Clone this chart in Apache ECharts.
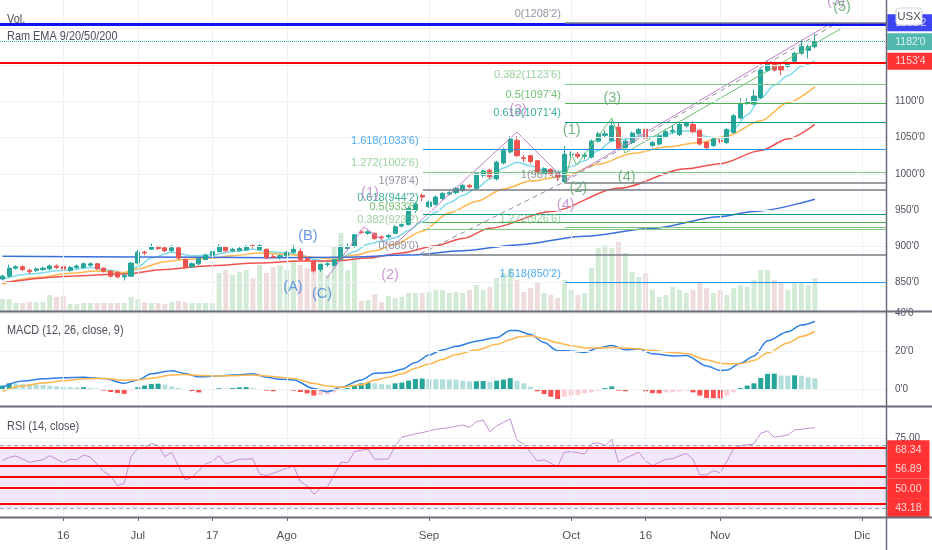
<!DOCTYPE html>
<html><head><meta charset="utf-8">
<script src="https://cdn.jsdelivr.net/npm/echarts@6/dist/echarts.min.js"></script>
<style>html,body{margin:0;padding:0;background:#fff}#c{width:932px;height:550px}</style>
</head><body><div id="c"></div>
<script>
const FONT = "'Liberation Sans Narrow','Liberation Sans',Arial,sans-serif";

// ---- sessions (categories) ----
const junDays = [3,4,5,8,9,10,11,12,15,16,17,18,19,22,23,24,25,26,29,30];
const julDays = [1,2,6,7,8,9,10,13,14,15,16,17,20,21,22,23,24,27,28,29,30,31];
const augDays = [3,4,5,6,7,10,11,12,13,14,17,18,19,20,21,24,25,26,27,28,31];
const sepDays = [1,2,3,4,8,9,10,11,14,15,16,17,18,21,22,23,24,25,28,29,30];
const octDays = [1,2,5,6,7,8,9,12,13,14,15,16,19,20,21,22,23,26,27,28,29,30];
const novDays = [2,3,4,5,6,9,10,11,12,13,16,17,18,19,20,23,24,25,26,27,30];
const decDays = [1,2,3,4];
const dates = [];
[['2020-06',junDays],['2020-07',julDays],['2020-08',augDays],['2020-09',sepDays],['2020-10',octDays],['2020-11',novDays],['2020-12',decDays]]
  .forEach(([m, ds]) => ds.forEach(d => dates.push(m + '-' + String(d).padStart(2,'0'))));

const tickDates = ['2020-06-16','2020-07-01','2020-07-17','2020-08-03','2020-09-01','2020-10-01','2020-10-16','2020-11-02','2020-12-01'];
const tickLabels = ['16','Jul','17','Ago','Sep','Oct','16','Nov','Dic'];
const tickIdx = tickDates.map(d => dates.indexOf(d));

const priceLabelTicks = [850,900,950,1000,1050,1100];
const priceGridTicks = [850,900,950,1000,1050,1100,1150,1200];
const macdTicks = [0,20,40];
const rsiTicks = [75];

// ---- candles: [open, close, low, high] ----
const ohlc = [
[855,859,853,861],[859,870,857,875],[870,872,868,874],[872,868,866,874],[867,865,862,869],
[867,869,865,871],[868,870,866,872],[869,873,867,875],[873,871,869,875],[872,869,867,874],
[867,871,865,873],[871,873,869,875],[871,876,869,878],[874,876,872,878],[876,869,868,877],
[870,866,864,871],[866,859,857,867],[864,858,856,866],[858,860,853,864],[859,877,858,878],
[877,892,875,895],[892,891,888,894],[896,900,895,904],[900,897,895,901],[898,894,892,899],
[894,898,892,902],[898,884,882,899],[882,871,869,883],[872,876,870,878],[876,883,874,884],
[882,888,881,890],[888,893,887,895],[893,900,892,903],[899,894,892,901],[894,896,892,898],
[894,897,893,899],[895,900,894,902],[901,900,897,903],[896,901,894,903],[896,884,883,897],
[886,885,884,889],[886,887,882,889],[887,892,886,894],[892,896,890,902],[893,882,880,897],
[883,881,879,885],[880,866,864,881],[868,875,865,876],[875,876,872,878],[874,882,872,883],
[882,900,881,902],[897,899,894,904],[900,916,898,917],[920,919,917,922],[918,920,916,922],
[918,911,909,919],[913,912,910,915],[913,915,911,917],[918,927,917,929],[928,930,926,932],
[930,952,929,955],[950,958,946,961],[970,968,962,973],[955,961,953,963],[958,968,956,970],
[966,973,964,975],[972,974,970,977],[974,980,972,982],[977,984,975,986],[984,982,980,986],
[980,1000,978,1002],[998,1004,995,1006],[1005,996,993,1007],[993,1016,991,1018],[1015,1032,1013,1036],
[1030,1048,1028,1052],[1046,1025,1023,1052],[1022,1021,1016,1026],[1025,1017,1014,1026],[1018,1002,1000,1019],
[1000,1007,998,1009],[1006,999,997,1008],[1000,996,990,1002],[989,1027,987,1038],[1026,1027,1022,1031],
[1027,1024,1021,1030],[1024,1026,1020,1029],[1023,1045,1021,1047],[1045,1055,1043,1058],[1053,1055,1050,1060],
[1046,1066,1044,1073],[1064,1035,1032,1071],[1036,1045,1034,1048],[1043,1056,1041,1058],[1055,1061,1053,1063],
[1061,1049,1047,1063],[1039,1043,1037,1045],[1041,1052,1039,1054],[1051,1058,1049,1060],[1058,1060,1055,1066],
[1054,1068,1052,1070],[1066,1070,1064,1072],[1068,1058,1056,1072],[1060,1041,1039,1061],[1043,1036,1034,1045],
[1039,1048,1037,1050],[1046,1045,1042,1048],[1043,1061,1041,1063],[1057,1080,1055,1082],[1077,1096,1075,1104],
[1098,1099,1095,1104],[1096,1107,1094,1116],[1105,1143,1103,1145],[1142,1152,1140,1157],[1152,1143,1141,1155],
[1149,1143,1136,1151],[1148,1153,1146,1155],[1155,1166,1153,1168],[1166,1175,1164,1185],[1170,1175,1159,1178],
[1175,1182,1173,1193]
];

const volume = [
12,12,8,8,9,9,9,16,14,15, 7,7,8,8,8,8,8,8,8,14, 12,9,8,8,7,9,10,9,8,8,
8,8,38,41,36,39,41,33,46,38, 44,46,41,51,46,43,39,51,36,64, 78,41,53,10,11,17,9,15,13,14,
18,18,18,19,21,21,18,19,18,21, 26,21,24,33,38,43,31,19,23,28, 18,16,13,31,21,16,18,43,63,66,
63,69,58,39,34,38,21,14,16,24, 21,18,21,29,23,18,21,16,23,26, 24,31,41,41,31,28,21,29,29,26,
33];

// ---- EMA readings [index, price] ----
const ema9 = [[0,855],[4,862],[9,867],[13,871],[16,867],[18,863],[20,872],[22,884],[25,892],[28,887],[31,888],[34,893],[37,896],[39,893],[42,891],[44,889],[46,882],[48,879],[50,884],[52,893],[54,903],[56,907],[58,912],[60,922],[62,934],[64,947],[66,960],[68,970],[70,980],[72,993],[74,1008],[76,1016],[78,1011],[80,1005],[82,1002],[84,1010],[86,1018],[88,1032],[90,1045],[92,1048],[94,1052],[96,1051],[98,1054],[100,1059],[102,1059],[104,1051],[106,1048],[108,1062],[110,1081],[112,1104],[114,1122],[116,1135],[118,1148],[120,1156]];
const ema20 = [[0,848],[5,857],[10,863],[14,866],[18,864],[20,869],[24,879],[27,882],[31,884],[34,887],[38,891],[42,889],[46,885],[49,882],[52,888],[55,894],[58,903],[62,921],[66,946],[70,962],[74,979],[78,990],[83,997],[88,1013],[93,1028],[98,1037],[103,1043],[107,1052],[112,1073],[116,1098],[120,1120]];
const ema50 = [[0,850],[10,859],[18,862],[24,868],[30,873],[38,877],[44,880],[49,880],[54,884],[59,891],[64,901],[68,911],[72,925],[81,948],[91,980],[101,1007],[106,1014],[112,1032],[116,1048],[120,1068]];
const ema200 = [[0,886.5],[20,885.5],[40,884.5],[50,885],[60,888],[68,894],[76,902],[86,914],[96,925],[106,941],[111,948],[120,965]];

// ---- MACD ----
const macd = [[0,1.0],[3,4.2],[6,5.4],[9,6.0],[12,6.2],[15,5.5],[18,3.0],[20,4.8],[22,8.0],[25,9.6],[27,8.2],[29,6.4],[32,6.9],[34,7.4],[37,8.0],[39,6.2],[41,5.1],[43,4.8],[46,0.2],[48,-1.4],[50,0.9],[53,4.8],[55,8.3],[57,8.7],[59,10.4],[61,14.0],[63,18.0],[65,20.6],[67,22.6],[70,25.3],[73,27.2],[75,30.9],[76,30.9],[78,28.8],[80,24.6],[82,20.2],[84,20.1],[86,19.3],[88,21.6],[90,23.0],[92,20.7],[94,21.1],[96,18.6],[99,17.5],[101,17.7],[104,12.2],[106,9.8],[107,10.0],[109,13.6],[111,17.5],[113,25.5],[116,30.2],[118,33.8],[120,35.7]];
const signal = [[0,-1.2],[3,1.6],[6,3.1],[9,4.3],[12,5.4],[15,5.6],[18,4.6],[20,4.8],[22,5.7],[25,7.4],[27,7.6],[29,7.1],[32,6.9],[34,7.0],[37,7.4],[39,6.9],[41,6.2],[43,5.5],[46,2.9],[48,1.6],[50,0.9],[53,2.2],[55,4.6],[57,6.2],[59,8.0],[61,11.0],[63,13.2],[65,15.6],[67,18.2],[70,20.6],[73,23.6],[75,26.0],[76,27.4],[78,28.1],[80,26.6],[82,24.4],[84,22.9],[86,21.7],[88,21.6],[90,21.9],[92,21.6],[94,21.2],[96,20.3],[99,19.3],[101,18.7],[104,15.4],[106,13.6],[107,13.3],[109,13.3],[111,15.1],[113,19.0],[116,24.3],[118,27.8],[120,30.4]];
const hist = [
1.8,3.0,2.8,2.6,2.5,2.3,2.1,1.8,1.4,1.2, 1.0,0.8,0.9,0.5,0.3,-0.9,-1.6,-2.1,-2.6,-0.9,
0.9,1.8,2.6,2.8,2.3,1.4,0.5,-0.5,-1.1,-1.8, -0.5,-0.2,0.4,0.3,0.5,0.9,1.0,0.5,-0.4,-0.9,
-1.2,-0.5,-0.4,-0.9,-1.6,-2.3,-3.5,-3.2,-3.0,-1.8, -0.5,0.5,1.8,3.0,3.5,3.0,2.6,2.3,3.0,3.4,
4.4,5.3,5.5,5.3,5.2,5.1,5.0,4.9,4.4,4.0, 4.1,4.2,3.8,4.4,5.0,5.7,4.4,3.0,1.2,-1.2,
-2.7,-4.1,-5.3,-4.1,-3.5,-3.0,-2.3,-1.8,-0.9,0.5, 1.4,-0.9,-1.2,-0.5,-0.45,-1.2,-2.2,-2.3,-1.8,-1.7,
-1.3,-0.9,-1.8,-3.5,-4.8,-4.9,-5.0,-3.5,-1.8,0.5, 1.8,3.0,5.8,8.0,8.1,7.1,7.0,7.2,7.0,6.2,
5.7];

// ---- RSI ----
const rsi = [[0,60.5],[1,62.5],[2,63.4],[4,59.4],[6,61.0],[7,63.6],[9,59.1],[10,61.3],[11,61.0],[12,64.1],[13,62.6],[15,53.4],[16,50.5],[17,44.4],[18,46.0],[19,63.0],[20,68.3],[21,68.8],[22,71.5],[23,70.0],[24,63.0],[25,65.8],[27,48.1],[28,49.8],[30,58.3],[31,59.8],[32,63.6],[33,58.3],[35,61.3],[37,61.5],[38,51.9],[39,50.8],[43,57.2],[44,47.0],[45,44.4],[46,38.9],[47,42.8],[48,43.4],[50,59.4],[51,59.1],[52,66.2],[54,67.9],[55,61.3],[57,61.5],[58,69.8],[59,75.4],[61,77.5],[62,78.3],[64,80.5],[66,81.5],[68,83.2],[69,81.7],[70,85.3],[71,86.4],[72,78.9],[73,82.6],[75,87.1],[76,73.6],[77,71.1],[79,60.2],[80,60.9],[82,56.6],[83,65.8],[84,66.2],[86,64.7],[87,70.9],[88,71.9],[89,70.0],[90,74.1],[91,59.4],[92,61.9],[94,65.8],[95,60.2],[96,57.2],[98,61.3],[99,61.7],[101,65.1],[102,61.3],[103,51.3],[104,51.3],[105,54.0],[106,52.7],[107,59.8],[108,68.3],[109,70.0],[111,71.1],[112,77.9],[113,79.4],[114,75.4],[116,76.8],[117,80.0],[118,80.5],[120,81.5]];
const rsiBand = [70, 30];
const rsiLevels = [68.34, 56.89, 50.00, 43.18, 32.70];
const rsiBadgeLevels = [68.34, 56.89, 50.00, 43.18];

// ---- user drawings ----
const blueLevel = 1206, redLevel = 1153.5, lastClose = 1182;
const fibA = { start: 62.1, levels: [
  [0, 889.0, "0(889'0)"], [0.382, 923.2, "0.382(923'2)"], [0.5, 933.75, "0.5(933'6)"],
  [0.618, 944.25, "0.618(944'2)"], [1, 978.5, "1(978'4)"], [1.272, 1002.75, "1.272(1002'6)"],
  [1.618, 1033.75, "1.618(1033'6)"] ]};
const fibB = { start: 83.1, levels: [
  [0, 1208.25, "0(1208'2)"], [0.382, 1123.75, "0.382(1123'6)"], [0.5, 1097.5, "0.5(1097'4)"],
  [0.618, 1071.5, "0.618(1071'4)"], [1, 987.0, "1(987'0)"], [1.272, 926.75, "1.272(926'6)"],
  [1.618, 850.25, "1.618(850'2)"] ]};
const purpleWave = [[47.94,856.4],[53.41,926.7],[57.54,899.1],[76.0,1057.6],[83.09,991.4],[122.67,1209.1]];
const greenWave = [[83.09,991.4],[84.08,1025.9],[84.82,1012.1],[89.99,1076.8],[91.95,1028.6],[124.0,1200.8]];
const dashedTrend = [[61.68,889.5],[83.24,990.0],[123.26,1207.7]];
const labelsABC = [['(A)',42.92,844.0],['(B)',45.13,914.3],['(C)',47.2,834.4]];
const labelsPurple = [['(1)',54.29,973.1],['(2)',57.25,860.6],['(3)',76.15,1087.9],['(4)',83.2,957.0],['(5)',123.1,1238.0]];
const labelsGreen = [['(1)',84.08,1060.3],['(2)',85.05,980.4],['(3)',90.08,1104.4],['(4)',92.2,995.6],['(5)',124.0,1229.8]];

// ---- styles ----
const XMIN = -0.352, XMAX = 130.5;
const fibColors = {0:'#787b86', 0.382:'#81c784', 0.5:'#4caf50', 0.618:'#089981', 1:'#787b86', 1.272:'#81c784', 1.618:'#2196f3'};
const fibALabelDy = {0.618:-16, 0.5:-15, 0.382:-10};
const fibBLabelDy = {};
const rsiBadgeDy = [1.8, 2.8, 11.7, 20.3];
const GRIDC = '#eef1f6';

const chart = echarts.init(document.getElementById('c'));

function xAxisCfg(gi, withLabels) {
  return {
    type:'value', gridIndex: gi, min: XMIN, max: XMAX,
    axisLine:{show:false}, splitLine:{show:false},
    axisTick: withLabels ? {show:true, customValues: tickIdx, length:4, lineStyle:{color:'#6a6d78'}} : {show:false},
    axisLabel: withLabels ? {show:true, customValues: tickIdx, formatter: v => tickLabels[tickIdx.indexOf(Math.round(v))] || '',
      color:'#50535e', fontSize:11.5, fontFamily: FONT, margin: 13} : {show:false}
  };
}
function yAxisCfg(gi, min, max, ticks, fmt) {
  return {
    type:'value', gridIndex: gi, position:'right', min, max, scale:true,
    axisLine:{show:false}, splitLine:{show:false},
    axisTick:{show:true, customValues: ticks, length:4, lineStyle:{color:'#6a6d78'}},
    axisLabel:{show:true, customValues: ticks, formatter: fmt, color:'#50535e', fontSize:10, fontFamily: FONT, margin: 9}
  };
}
function gridLines(gi, yVals) {
  return {type:'line', xAxisIndex: gi, yAxisIndex: gi, data: [], silent: true, z: 0,
    markLine:{silent:true, symbol:['none','none'], animation:false, label:{show:false},
      lineStyle:{color: GRIDC, width:1, type:'solid'},
      data: yVals.map(v => ({yAxis:v})).concat(tickIdx.map(i => ({xAxis:i})))}};
}
function hiddenScatter(gi, items, z) {
  return {type:'scatter', xAxisIndex: gi, yAxisIndex: gi, symbol:'circle', symbolSize: 0.5,
    itemStyle:{color:'rgba(0,0,0,0)'}, silent:true, clip:false, z: z || 6, animation:false, data: items};
}
function fibLines(fib) {
  return {type:'line', xAxisIndex:0, yAxisIndex:0, data:[], silent:true, z:4,
    markLine:{silent:true, symbol:['none','none'], animation:false, label:{show:false},
      data: fib.levels.map(l => [
        {coord:[fib.start, l[1]], lineStyle:{color: fibColors[l[0]], width: (l[0]===0||l[0]===1) ? 1.5 : 1, type:'solid'}},
        {coord:[XMAX, l[1]]}])}};
}
function fibLabels(fib, dyMap) {
  return hiddenScatter(0, fib.levels.map(l => ({value:[fib.start, l[1]],
    label:{show:true, position:'left', distance:4, offset:[0, dyMap[l[0]] != null ? dyMap[l[0]] : -8.5],
      formatter: l[2], color: fibColors[l[0]], fontSize:11, fontFamily: FONT}})), 6);
}
function waveLabels(list, color) {
  return hiddenScatter(0, list.map(l => ({value:[l[1], l[2]],
    label:{show:true, position:'inside', formatter: l[0], color, fontSize:14.5, fontFamily: FONT}})), 6);
}
function histColor(i) {
  const v = hist[i], p = i > 0 ? hist[i-1] : v - 0.1;
  if (v >= 0) return v >= p ? '#26a69a' : '#b2dfdb';
  return v < p ? '#ff5252' : '#ffcdd2';
}

const series = [];
series.push(gridLines(0, priceGridTicks), gridLines(2, macdTicks), gridLines(3, rsiTicks));

// volume
series.push({type:'bar', xAxisIndex:1, yAxisIndex:1, barWidth:5, z:1, silent:true, animation:false,
  data: volume.map((v,i) => ({value:[i,v], itemStyle:{color: ohlc[i][1] >= ohlc[i][0] ? '#d3ead6' : '#efdcdd'}}))});

// EMAs
[[ema9,'#7fdbea'],[ema20,'#ffb74d'],[ema50,'#ef5350'],[ema200,'#3b6fdc']].forEach(([d,c]) =>
  series.push({type:'line', xAxisIndex:0, yAxisIndex:0, data:d, symbol:'none', smooth:0.3, smoothMonotone:'x',
    lineStyle:{color:c, width:1.5}, z:2, silent:true, animation:false}));

// candles
series.push({type:'candlestick', xAxisIndex:0, yAxisIndex:0, barWidth:4.6, z:3, silent:true, animation:false,
  data: ohlc.map((d,i) => [i, d[0], d[1], d[2], d[3]]),
  itemStyle:{color:'#26a69a', color0:'#ef5350', borderColor:'#26a69a', borderColor0:'#ef5350', borderWidth:1}});

// user horizontal lines
series.push({type:'line', xAxisIndex:0, yAxisIndex:0, data:[], silent:true, z:4,
  markLine:{silent:true, symbol:['none','none'], animation:false, label:{show:false},
    data:[{yAxis: blueLevel, lineStyle:{color:'#0c16f2', width:3, type:'solid'}},
          {yAxis: redLevel, lineStyle:{color:'#ff0000', width:2, type:'solid'}},
          {yAxis: lastClose, lineStyle:{color:'#26a69a', width:1, type:'dotted'}}]}});

// fibs
series.push(fibLines(fibA), fibLines(fibB));

// trend / wave lines
series.push({type:'line', xAxisIndex:0, yAxisIndex:0, data: dashedTrend, symbol:'none', z:4, silent:true, animation:false,
  lineStyle:{color:'#8a8d96', width:1, type:[5,4]}});
series.push({type:'line', xAxisIndex:0, yAxisIndex:0, data: purpleWave, symbol:'none', z:4, silent:true, animation:false,
  lineStyle:{color:'#c27fcb', width:1}});
series.push({type:'line', xAxisIndex:0, yAxisIndex:0, data: greenWave, symbol:'none', z:4, silent:true, animation:false,
  lineStyle:{color:'#6dbf6f', width:1}});

// labels
series.push(fibLabels(fibA, fibALabelDy), fibLabels(fibB, fibBLabelDy));
series.push(waveLabels(labelsABC, '#3f7fd9'), waveLabels(labelsPurple, '#bb7fc6'), waveLabels(labelsGreen, '#55a466'));

// price badges
const badgeLabel = (text, bg, dy) => ({show:true, position:'right', distance:1, offset:[0, dy], formatter:text,
  color:'#fff', backgroundColor:bg, padding:[3,8,2,8], fontSize:10.5, lineHeight:12, fontFamily: FONT});
series.push(hiddenScatter(0, [
  {value:[XMAX, blueLevel], label: badgeLabel("1208'2", '#0c16f2', -1.5)},
  {value:[XMAX, lastClose], label: badgeLabel("1182'0", '#26a69a', 0)},
  {value:[XMAX, redLevel], label: badgeLabel("1153'4", '#ff0000', -1)}
], 7));

// MACD
series.push({type:'bar', xAxisIndex:2, yAxisIndex:2, barWidth:5, z:1, silent:true, animation:false,
  data: hist.map((v,i) => ({value:[i,v], itemStyle:{color: histColor(i)}}))});
series.push({type:'line', xAxisIndex:2, yAxisIndex:2, data: macd, symbol:'none', smooth:0.3, smoothMonotone:'x',
  lineStyle:{color:'#2f7fe6', width:1.5}, z:2, silent:true, animation:false});
series.push({type:'line', xAxisIndex:2, yAxisIndex:2, data: signal, symbol:'none', smooth:0.3, smoothMonotone:'x',
  lineStyle:{color:'#ffb74d', width:1.5}, z:2, silent:true, animation:false});

// RSI
series.push({type:'line', xAxisIndex:3, yAxisIndex:3, data:[], silent:true, z:1,
  markArea:{silent:true, animation:false, itemStyle:{color:'#f3e8fb'}, data:[[{yAxis: rsiBand[0]},{yAxis: rsiBand[1]}]]}});
series.push({type:'line', xAxisIndex:3, yAxisIndex:3, data:[], silent:true, z:2,
  markLine:{silent:true, symbol:['none','none'], animation:false, label:{show:false},
    data: rsiBand.map(v => ({yAxis:v, lineStyle:{color:'#a3a6af', width:1, type:[4,3]}}))
      .concat(rsiLevels.map(v => ({yAxis:v, lineStyle:{color:'#ff0000', width:2, type:'solid'}})))}});
series.push({type:'line', xAxisIndex:3, yAxisIndex:3, data: rsi, symbol:'none', lineStyle:{color:'#c48fd0', width:1},
  z:3, silent:true, animation:false});
series.push(hiddenScatter(3, rsiBadgeLevels.map((v,k) => ({value:[XMAX, v],
  label:{show:true, position:'right', distance:1, offset:[0, rsiBadgeDy[k]], formatter: v.toFixed(2), color:'#fff',
    backgroundColor:'#ff0000', padding:[4,8,4,8], fontSize:10.5, lineHeight:11.5, fontFamily: FONT}})), 7));

const sepStyle = {stroke:'#6a6d78', lineWidth:2};
const legendText = (t, y) => ({type:'text', x:7, y, z:50, scaleX:0.84,
  style:{text:t, fill:'#4c4f5a', fontSize:13, fontFamily:FONT, verticalAlign:'middle'}});
const option = {
  animation:false,
  backgroundColor:'#ffffff',
  grid:[
    {left:0, right:46, top:0, height:311},
    {left:0, right:46, top:200, height:111},
    {left:0, right:46, top:312, height:94},
    {left:0, right:46, top:407, height:110}
  ],
  xAxis:[xAxisCfg(0,false), xAxisCfg(1,false), xAxisCfg(2,false), xAxisCfg(3,true)],
  yAxis:[
    yAxisCfg(0, 811, 1239.4, priceLabelTicks, v => v + "'0"),
    {type:'value', gridIndex:1, min:0, max:111, show:false},
    yAxisCfg(2, -9.0, 40.7, macdTicks, v => v + "'0"),
    yAxisCfg(3, 24.4, 94.7, rsiTicks, v => v.toFixed(2))
  ],
  series,
  graphic:[
    legendText('Vol.', 19.5),
    legendText('Ram EMA 9/20/50/200', 36),
    legendText('MACD (12, 26, close, 9)', 330.5),
    legendText('RSI (14, close)', 426),
    {type:'line', z:60, shape:{x1:0, y1:311.5, x2:932, y2:311.5}, style:sepStyle},
    {type:'line', z:60, shape:{x1:0, y1:406.5, x2:932, y2:406.5}, style:sepStyle},
    {type:'line', z:60, shape:{x1:0, y1:517.5, x2:932, y2:517.5}, style:sepStyle},
    {type:'line', z:60, shape:{x1:886.5, y1:0, x2:886.5, y2:550}, style:{stroke:'#6a6d78', lineWidth:1.5}},
    {type:'rect', zlevel:5, z:100, shape:{x:896, y:8, width:26, height:17, r:3}, style:{fill:'#ffffff', stroke:'#d1d4dc', lineWidth:1}},
    {type:'text', zlevel:5, z:101, x:909, y:16.5, style:{text:'USX', fill:'#50535e', fontSize:11.5, fontFamily:FONT, align:'center', verticalAlign:'middle'}}
  ]
};
chart.setOption(option);
</script></body></html>
